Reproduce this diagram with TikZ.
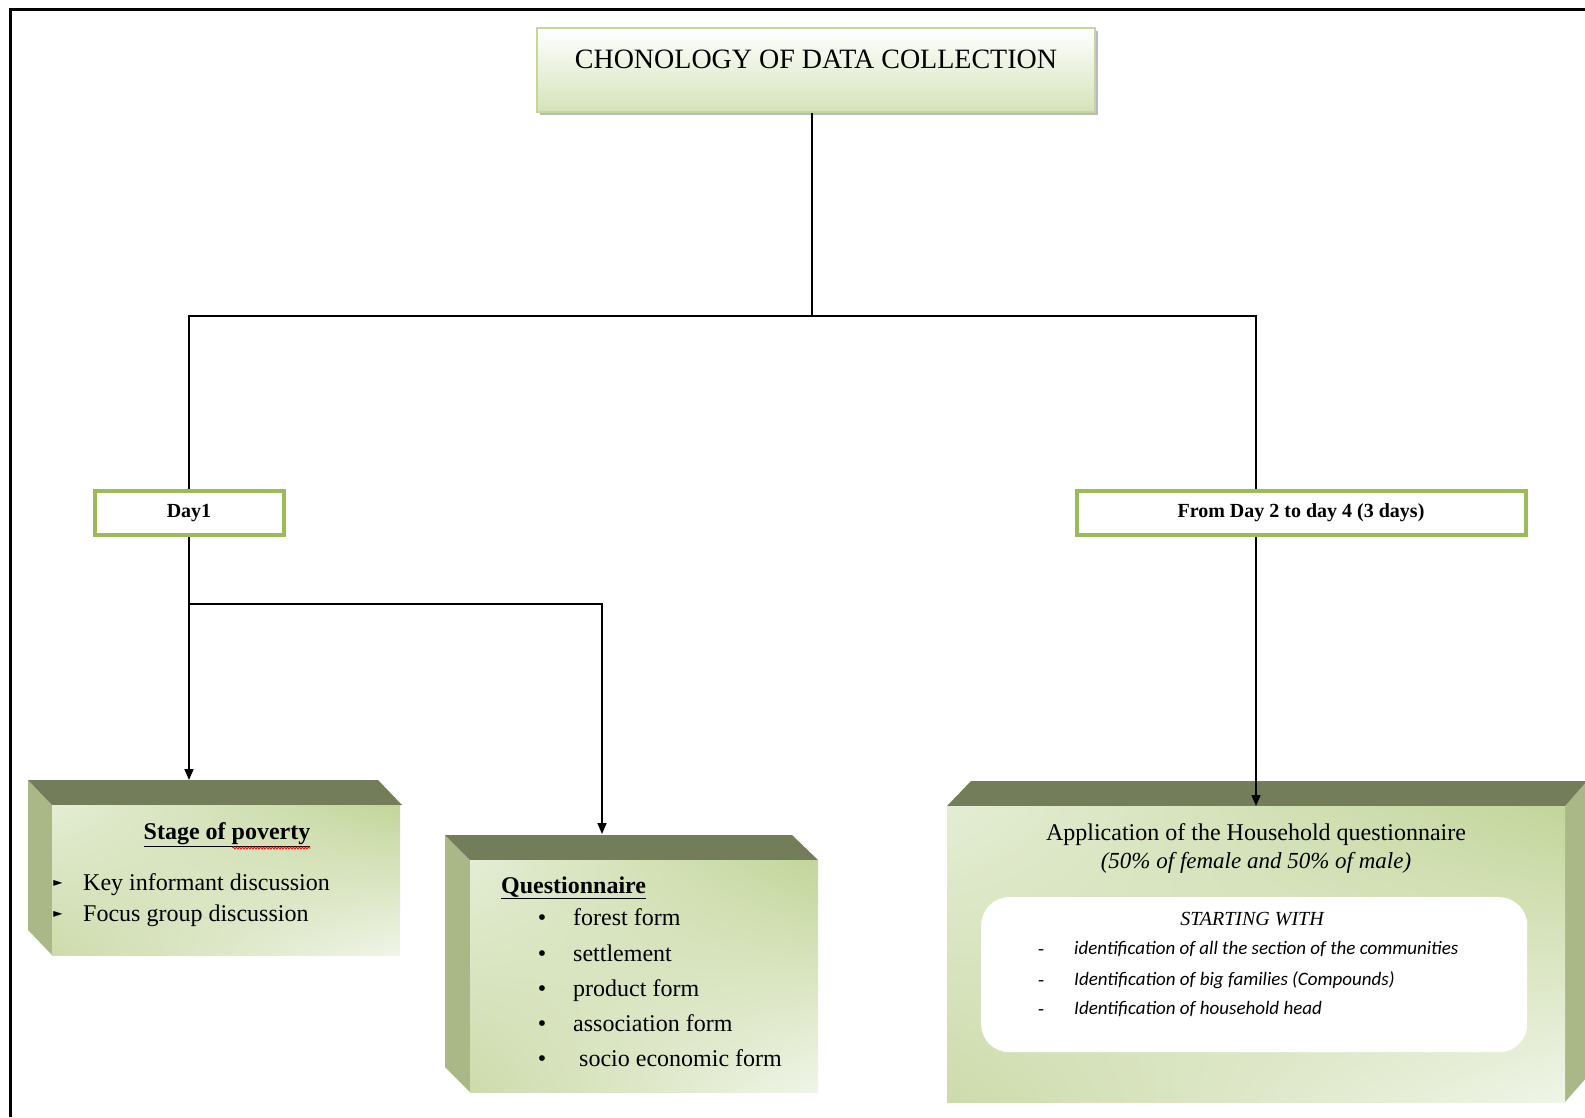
\documentclass[tikz,border=0pt]{standalone}
\usepackage{fontspec}
\setmainfont{Liberation Serif}
\newfontfamily\calib{Carlito}
\newfontfamily\dvs{DejaVu Sans}
\usetikzlibrary{arrows.meta,shadows,shadings,decorations.pathmorphing}
\definecolor{topface}{HTML}{737D59}
\definecolor{sideface}{HTML}{A9B886}
\definecolor{dayborder}{HTML}{9BBB59}
\definecolor{titleborder}{HTML}{C3D69B}
\definecolor{titlebot}{HTML}{D5E3BA}
\definecolor{gA}{HTML}{E4EDD4}
\definecolor{gB}{HTML}{C3D59A}
\definecolor{gC}{HTML}{CDDBAB}
\definecolor{gD}{HTML}{F0F5E8}
\newcommand{\fsz}[1]{\fontsize{#1}{#1}\selectfont}
\tikzset{
  conn/.style={line width=1.6pt, draw=black},
  arr/.style={conn, -{Triangle[width=9pt,length=11pt]}},
  daybox/.style={draw=dayborder, line width=4pt, fill=white, inner sep=0pt, font=\fsz{20}\bfseries},
  titlebox/.style={draw=titleborder, line width=1.5pt, top color=white, bottom color=titlebot,
     inner sep=0pt, drop shadow={shadow xshift=2.5pt, shadow yshift=-3pt, fill=black!45, opacity=.6}},
  front/.style={shade, upper left=gA, upper right=gB, lower left=gC, lower right=gD, inner sep=0pt, anchor=north west},
  topf/.style={fill=topface},
  sidef/.style={fill=sideface},
  txt/.style={inner sep=0pt, anchor=base, font=\fsz{24}},
  itemtxt/.style={inner sep=0pt, anchor=base west, font=\fsz{24}},
  smalltxt/.style={inner sep=0pt, anchor=base west, font=\calib\itshape\fsz{19}},
  innerbox/.style={fill=white, rounded corners=28pt, inner sep=0pt, anchor=north west},
}
\begin{document}
\begin{tikzpicture}[x=1pt,y=-1pt]
\useasboundingbox (0,0) rectangle (1585,1117);
% outer frame
\draw[line width=3pt] (10,1117) -- (10,9) -- (1585,9);

% title
\node[titlebox, minimum width=558pt, minimum height=84pt] (title) at (816,70) {};
\node[txt, font=\fsz{28}] (titletext) at (816,68) {CHONOLOGY OF DATA COLLECTION};

% day boxes
\node[daybox, minimum width=189pt, minimum height=44pt] (day1) at (189,513) {Day1};
\node[daybox, minimum width=449pt, minimum height=44pt] (day2) at (1301,513) {From Day 2 to day 4 (3 days)};

% stage of poverty cube
\fill[sidef] (28,780) -- (52,805) -- (52,955) -- (28,930) -- cycle;
\fill[topf] (28,780) -- (378,780) -- (402,805) -- (52,805) -- cycle;
\node[front, minimum width=348pt, minimum height=150pt] (stage) at (52,805) {};
\node[txt, font=\fsz{24}\bfseries] (stagetitle) at (227,839) {\underline{Stage of poverty}};
\draw[red, line width=0.8pt, decorate, decoration={snake, amplitude=1pt, segment length=3pt}]
  ([xshift=-78pt, yshift=-9pt]stagetitle.base east) -- ([yshift=-9pt]stagetitle.base east);
\node[inner sep=0pt, font=\dvs\fsz{12}] (sb1) at (58,883) {►};
\node[inner sep=0pt, font=\dvs\fsz{12}] (sb2) at (58,914) {►};
\node[itemtxt] (s1) at (83,890) {Key informant discussion};
\node[itemtxt] (s2) at (83,921) {Focus group discussion};

% questionnaire cube
\fill[sidef] (445,835) -- (470,860) -- (470,1092) -- (445,1067) -- cycle;
\fill[topf] (445,835) -- (792,835) -- (818,860) -- (470,860) -- cycle;
\node[front, minimum width=348pt, minimum height=232pt] (quest) at (470,860) {};
\node[itemtxt, font=\fsz{24}\bfseries] (qtitle) at (501,893) {\underline{Questionnaire}};
\foreach \yy/\tt/\xx [count=\i] in {925/forest form/573, 961/settlement/573, 996/product form/573, 1031/association form/573, 1066/socio economic form/579}{
  \node[inner sep=0pt, anchor=base, font=\fsz{24}] (qb\i) at (542,\yy) {•};
  \node[itemtxt] (q\i) at (\xx,\yy) {\tt};
}

% application cube
\fill[sidef] (1565,806) -- (1587,781) -- (1587,1077) -- (1565,1102) -- cycle;
\fill[topf] (971,781) -- (1587,781) -- (1565,806) -- (947,806) -- cycle;
\node[front, minimum width=618pt, minimum height=296pt] (app) at (947,806) {};
\node[txt] (app1) at (1256,840) {Application of the Household questionnaire};
\node[txt, font=\fsz{23}\itshape] (app2) at (1256,868) {(50\% of female and 50\% of male)};
\node[innerbox, minimum width=546pt, minimum height=155pt] (inner) at (981,897) {};
\node[txt, font=\fsz{20}\itshape] (start) at (1252,925) {STARTING WITH};
\foreach \yy/\tt [count=\i] in {954/identification of all the section of the communities, 985/Identification of big families (Compounds), 1014/Identification of household head}{
  \node[inner sep=0pt, anchor=base, font=\fsz{18}] (ad\i) at (1041,\yy) {-};
  \node[smalltxt] (a\i) at (1074,\yy) {\tt};
}

% connectors
\coordinate (hub) at (812,316);
\coordinate (rcol) at (1256,316);
\coordinate (br) at (189,604);
\coordinate (stagetop) at (189,780);
\coordinate (qtop) at (602,834);
\coordinate (apptop) at (1256,806);
\draw[conn] (title.south -| hub) -- (hub);
\draw[conn] (day1.north) -- (day1.north |- hub) -- (rcol) -- (day2.north -| rcol);
\draw[arr] (day1.south) -- (stagetop);
\draw[arr] (br) -| (qtop);
\draw[arr] (day2.south -| rcol) -- (apptop);
\end{tikzpicture}
\end{document}
